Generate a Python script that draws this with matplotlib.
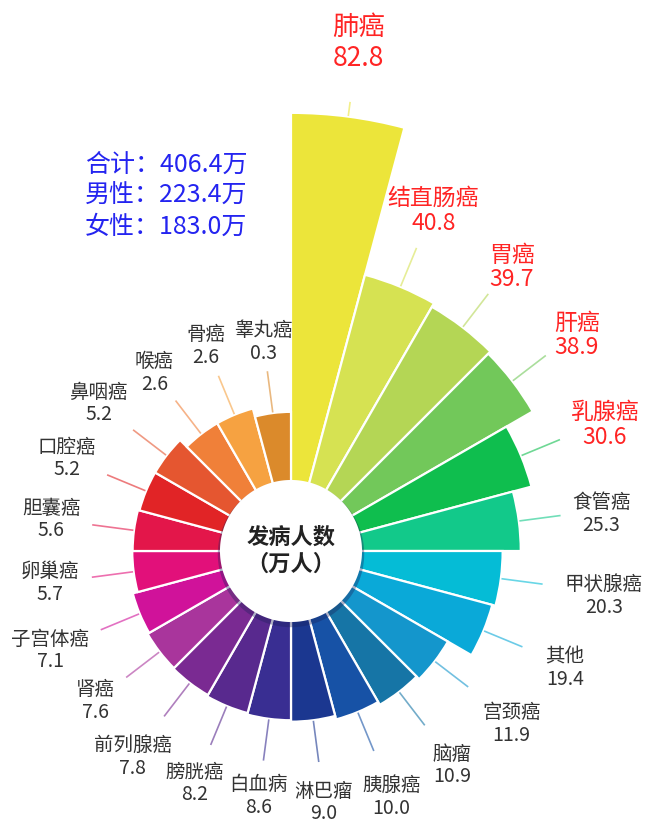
import numpy as np
import matplotlib.pyplot as plt
from matplotlib import transforms

plt.rcParams['font.family'] = ['Noto Sans CJK SC', 'DejaVu Sans']

names = ["肺癌", "结直肠癌", "胃癌", "肝癌", "乳腺癌", "食管癌", "甲状腺癌", "其他",
         "宫颈癌", "脑瘤", "胰腺癌", "淋巴瘤", "白血病", "膀胱癌", "前列腺癌", "肾癌",
         "子宫体癌", "卵巢癌", "胆囊癌", "口腔癌", "鼻咽癌", "喉癌", "骨癌", "睾丸癌"]
values = [82.8, 40.8, 39.7, 38.9, 30.6, 25.3, 20.3, 19.4,
          11.9, 10.9, 10.0, 9.0, 8.6, 8.2, 7.8, 7.6,
          7.1, 5.7, 5.6, 5.2, 5.2, 2.6, 2.6, 0.3]
colors = ["#ECE53A", "#D6E252", "#B4D655", "#72C85A", "#0FBE4E", "#12C98A", "#05BCD6", "#0AA9D8",
          "#1496CC", "#1675A6", "#1752A6", "#1B3790", "#392E92", "#58298E", "#7A2A92", "#A9359C",
          "#D0129A", "#E2107A", "#E3164A", "#E12426", "#E55630", "#F08039", "#F6A241", "#DB8A2B"]
n_red = 5

summary_labels = ["合计", "男性", "女性"]
summary_values = [406.4, 223.4, 183.0]

# layout (pixels / data units)
W, H = 659, 830
px_per_unit = 3.624
base = 38.1          # radial offset added to every value
hole = 19.6          # white centre circle
r_max = 125.0
cx, cy = 291, 551

fig = plt.figure(figsize=(W / 100, H / 100), dpi=100)
half = r_max * px_per_unit
ax = fig.add_axes([(cx - half) / W, (H - cy - half) / H, 2 * half / W, 2 * half / H],
                  projection="polar")
ax.set_theta_zero_location("N")
ax.set_theta_direction(-1)
ax.set_ylim(0, r_max)
ax.axis("off")

n = len(values)
width = 2 * np.pi / n
starts = np.arange(n) * width
radii = base + np.array(values)

ax.bar(starts, radii, width=width, bottom=0, align="edge", color=colors,
       edgecolor="white", linewidth=1.6, zorder=2)

# centre circle with a soft shadow
t = np.linspace(0, 2 * np.pi, 300)
shadow = transforms.offset_copy(ax.transData, fig=fig, x=0, y=-3, units="dots")
ax.fill(t, np.full_like(t, hole + 0.6), color="#1a1f5a", alpha=0.35, zorder=3,
        transform=shadow, lw=0)
ax.fill(t, np.full_like(t, hole), color="white", zorder=4, lw=0)

line_len = 11.0
renderer = fig.canvas.get_renderer()
for i, (name, v, c) in enumerate(zip(names, values, colors)):
    mid = starts[i] + width / 2
    r = radii[i]
    r_end = r + 0.4 + line_len
    ax.plot([mid, mid], [r + 0.4, r_end], color=c, alpha=0.6, lw=1.2, zorder=2)
    if i == 0:
        fs, tc, ls = 19, "#FF2424", 1.2
    elif i < n_red:
        fs, tc, ls = 16.5, "#FF2424", 1.1
    else:
        fs, tc, ls = 14, "#333333", 1.1
    txt = ax.text(mid, r_end, f"{name}\n{v:.1f}", ha="center", va="center",
                  fontsize=fs, color=tc, linespacing=ls, zorder=5)
    bb = txt.get_window_extent(renderer)
    dx, dy = np.sin(mid), np.cos(mid)
    ext = abs(dx) * bb.width / 2 + abs(dy) * bb.height / 2
    gap = 11 - 6 * max(dy, 0)
    if dx > 0 and dy < 0:
        gap += 10 * dx
    down = 4 if dx > 0 else 0
    dist = gap + ext
    txt.set_transform(transforms.offset_copy(ax.transData, fig=fig, x=dx * dist,
                                             y=dy * dist - down, units="dots"))

ax.text(0, 0, "发病人数\n（万人）", ha="center", va="center", fontsize=16,
        fontweight="bold", color="#222222", linespacing=1.25, zorder=6)

for k, (lab, val) in enumerate(zip(summary_labels, summary_values)):
    fig.text(85 / W, 1 - (165 + 31 * k) / H, f"{lab}：{val:.1f}万", ha="left", va="center",
             fontsize=18, color="#2424F0")

fig.savefig("out.png", dpi=100)
